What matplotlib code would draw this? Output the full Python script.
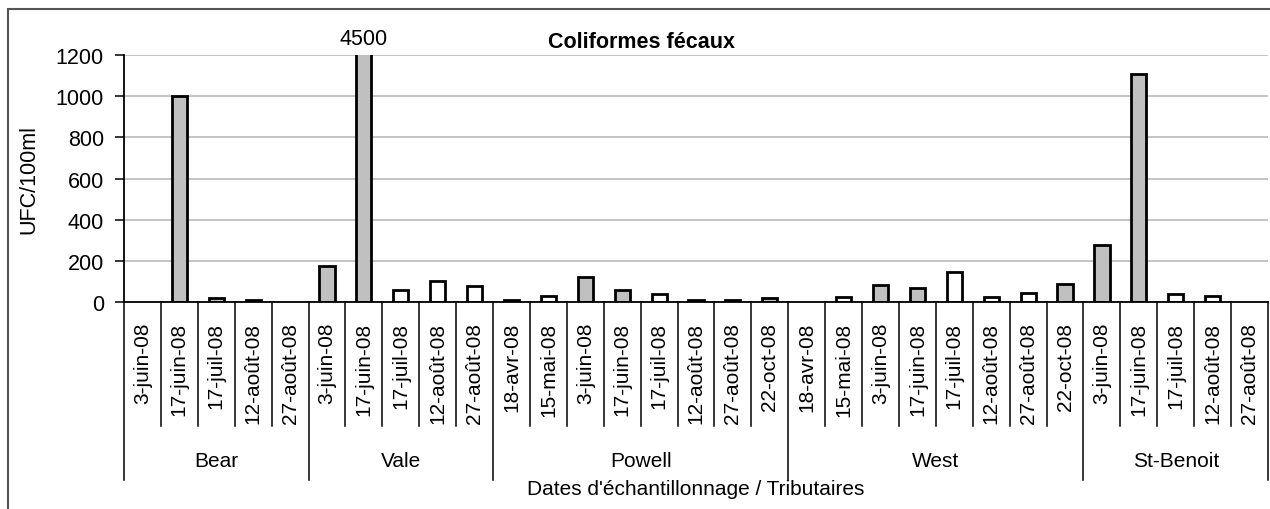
import matplotlib
matplotlib.use('Agg')
import matplotlib.pyplot as plt
import matplotlib.transforms as mtransforms
from matplotlib.patches import Rectangle
import numpy as np

plt.rcParams['font.family'] = ['Liberation Sans', 'DejaVu Sans']

groups = ['Bear', 'Vale', 'Powell', 'West', 'St-Benoit']
dates = [
    ['3-juin-08', '17-juin-08', '17-juil-08', '12-août-08', '27-août-08'],
    ['3-juin-08', '17-juin-08', '17-juil-08', '12-août-08', '27-août-08'],
    ['18-avr-08', '15-mai-08', '3-juin-08', '17-juin-08', '17-juil-08', '12-août-08', '27-août-08', '22-oct-08'],
    ['18-avr-08', '15-mai-08', '3-juin-08', '17-juin-08', '17-juil-08', '12-août-08', '27-août-08', '22-oct-08'],
    ['3-juin-08', '17-juin-08', '17-juil-08', '12-août-08', '27-août-08'],
]
values = [
    [0, 1000, 20, 8, 0],
    [175, 4500, 57, 102, 78],
    [8, 27, 123, 60, 40, 8, 8, 20],
    [0, 26, 85, 66, 145, 26, 42, 86],
    [275, 1110, 40, 27, 0],
]
# 1 = grey bar, 0 = white bar
grey = [
    [0, 1, 1, 1, 0],
    [1, 1, 0, 0, 0],
    [1, 0, 1, 1, 0, 1, 1, 1],
    [0, 0, 1, 1, 0, 0, 0, 1],
    [1, 1, 0, 0, 0],
]
yticks = [0, 200, 400, 600, 800, 1000, 1200]

W, H = 1270, 510
fig = plt.figure(figsize=(W / 100, H / 100), dpi=100)

# frame around the chart
fig.patches.append(Rectangle((8 / W, -0.1), 1.2, (H - 10) / H + 0.1, transform=fig.transFigure,
                             fill=False, edgecolor='#555555', linewidth=1.5))

x0, x1, ybase, ytop = 124, 1268, 303, 56
ax = fig.add_axes([x0 / W, (H - ybase) / H, (x1 - x0) / W, (ybase - ytop) / H])

flat_vals = [v for g in values for v in g]
flat_grey = [c for g in grey for c in g]
flat_dates = [d for g in dates for d in g]
n = len(flat_vals)
x = np.arange(n)

for xi, v, c in zip(x, flat_vals, flat_grey):
    if v > 0:
        ax.bar(xi, v, width=0.41, color='#c0c0c0' if c else 'white',
               edgecolor='black', linewidth=2.0, zorder=3)

ax.set_xlim(-0.5, n - 0.5)
ax.set_ylim(0, 1200)
ax.set_yticks(yticks)
ax.tick_params(axis='y', labelsize=15.5, length=6.5, width=1.1, direction='out', pad=8)
ax.set_xticks([])
ax.grid(axis='y', color='#c4c4c4', linewidth=1.4, zorder=0)
ax.spines['top'].set_visible(False)
ax.spines['right'].set_visible(False)
ax.spines['left'].set_linewidth(1.3)
ax.spines['bottom'].set_linewidth(1.3)
ax.spines['bottom'].set_zorder(4)

# label for the off-scale bar
big = int(np.argmax(flat_vals))
ax.annotate(str(flat_vals[big]), xy=(big, 1200), xytext=(0, 4), textcoords='offset points',
            ha='center', va='bottom', fontsize=15.5, annotation_clip=False)

ax.set_ylabel('UFC/100ml', fontsize=15.5)
ax.yaxis.set_label_coords((39 - x0) / (x1 - x0), 0.5)
fig.text(641 / W, 1 - 42 / H, 'Coliformes fécaux', ha='center', va='center',
         fontsize=15.5, fontweight='bold')

# multi-level category axis
trans = mtransforms.blended_transform_factory(ax.transData, ax.transAxes)
hpx = ybase - ytop
def ay(p):
    return (ybase - p) / hpx

for xi, d in zip(x, flat_dates):
    ax.text(xi, ay(323), d, rotation=90, ha='center', va='top', fontsize=15,
            transform=trans, clip_on=False)

start = 0
for gi, gname in enumerate(groups):
    size = len(values[gi])
    ax.plot([start - 0.5, start - 0.5], [0, ay(481)], color='black', linewidth=1.1,
            transform=trans, clip_on=False)
    for k in range(1, size):
        ax.plot([start + k - 0.5] * 2, [0, ay(427)], color='black', linewidth=1.1,
                transform=trans, clip_on=False)
    ax.text(start + (size - 1) / 2, ay(462), gname, ha='center', va='center',
            fontsize=15, transform=trans, clip_on=False)
    start += size
ax.plot([n - 0.5, n - 0.5], [0, ay(481)], color='black', linewidth=1.1,
        transform=trans, clip_on=False)

fig.text((x0 + x1) / 2 / W, 1 - 490 / H, "Dates d'échantillonnage / Tributaires",
         ha='center', va='center', fontsize=15)

fig.savefig('out.png', dpi=100)
